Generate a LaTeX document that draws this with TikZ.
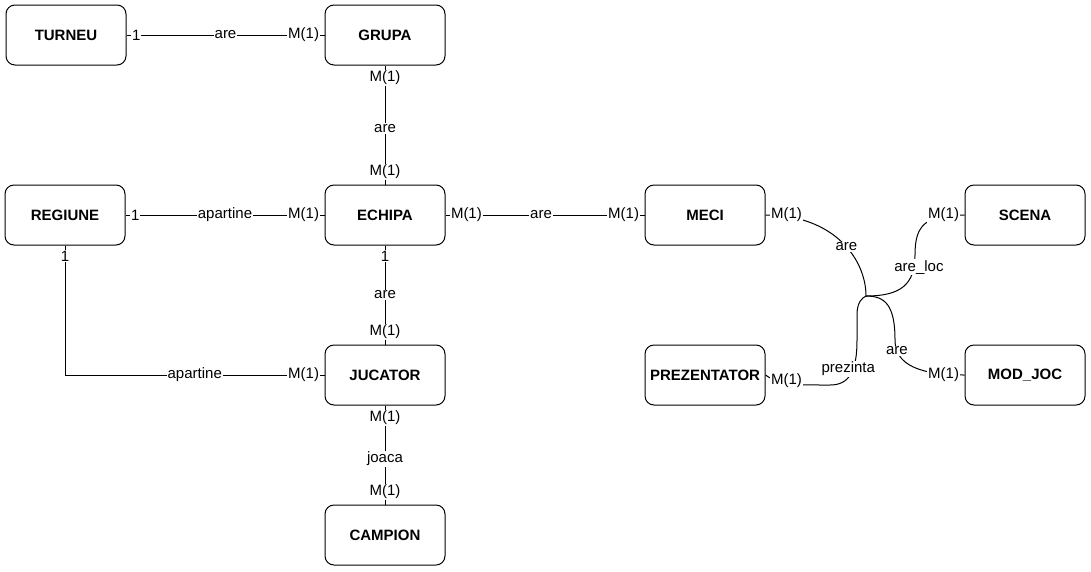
\documentclass[tikz,border=0pt]{standalone}
\usepackage{fontspec}
\setmainfont{Liberation Sans}
\usetikzlibrary{positioning}
\tikzstyle{entity} = [draw=black, line width=1pt, rounded corners=9pt,
minimum width=120pt, minimum height=60pt, text centered,
font=\fontsize{15}{18}\selectfont\bfseries]
\tikzstyle{rel} = [line width=1pt]
\tikzstyle{lbl} = [fill=white, inner sep=1pt, font=\fontsize{15}{18}\selectfont]

\begin{document}
\begin{tikzpicture}[x=1pt, y=-1pt]
            \useasboundingbox (0,0) rectangle (1091,571);
            % entities
            \node[entity] (turneu) at (66,35) {TURNEU};
            \node[entity] (grupa) at (385,35) {GRUPA};
            \node[entity] (regiune) at (65,215) {REGIUNE};
            \node[entity] (echipa) at (385,215) {ECHIPA};
            \node[entity] (meci) at (705,215) {MECI};
            \node[entity] (scena) at (1025,215) {SCENA};
            \node[entity] (jucator) at (385,375) {JUCATOR};
            \node[entity] (prezentator) at (705,375) {PREZENTATOR};
            \node[entity] (modjoc) at (1025,375) {MOD\_JOC};
            \node[entity] (campion) at (385,535) {CAMPION};
            \coordinate (hub) at (866,296);
            % straight relations
            \draw[rel] (turneu) -- (grupa)
            node[lbl, pos=0, anchor=west, xshift=4pt] {1}
            node[lbl, midway] {are}
            node[lbl, pos=1, anchor=east, xshift=-4pt] {M(1)};
            \draw[rel] (grupa) -- (echipa)
            node[lbl, pos=0, anchor=north, yshift=-4pt] {M(1)}
            node[lbl, pos=0.53] {are}
            node[lbl, pos=1, anchor=south, yshift=4pt] {M(1)};
            \draw[rel] (regiune) -- (echipa)
            node[lbl, pos=0, anchor=west, xshift=4pt] {1}
            node[lbl, midway] {apartine}
            node[lbl, pos=1, anchor=east, xshift=-4pt] {M(1)};
            \draw[rel] (echipa) -- (meci)
            node[lbl, pos=0, anchor=west, xshift=4pt] {M(1)}
            node[lbl, pos=0.48] {are}
            node[lbl, pos=1, anchor=east, xshift=-4pt] {M(1)};
            \draw[rel] (echipa) -- (jucator)
            node[lbl, pos=0, anchor=north, yshift=-4pt] {1}
            node[lbl, midway] {are}
            node[lbl, pos=1, anchor=south, yshift=4pt] {M(1)};
            \draw[rel] (regiune.south) |- (jucator.west)
            node[lbl, pos=0, anchor=north, yshift=-4pt] {1}
            node[lbl, pos=0.75] {apartine}
            node[lbl, pos=1, anchor=east, xshift=-4pt] {M(1)};
            \draw[rel] (jucator) -- (campion)
            node[lbl, pos=0, anchor=north, yshift=-4pt] {M(1)}
            node[lbl, pos=0.54] {joaca}
            node[lbl, pos=1, anchor=south, yshift=4pt] {M(1)};
            % curved relations to the hub
            \draw[rel] (meci.east) .. controls (835,215) and (866,260) .. (hub)
            node[lbl, pos=0, anchor=west, xshift=4pt] {M(1)}
            node[lbl, pos=0.55] {are};
            \draw[rel] (scena.west) .. controls (925,215) and (915,225) .. (915,255)
            node[lbl, pos=0, anchor=east, xshift=-4pt] {M(1)}
            .. controls (915,285) and (900,296) .. (hub)
            node[lbl, pos=0.15, xshift=5pt] {are\_loc};
            \draw[rel] (modjoc.west) .. controls (920,375) and (895,365) .. (895,340)
            node[lbl, pos=0, anchor=east, xshift=-4pt] {M(1)}
            node[lbl, pos=0.84] {are}
            .. controls (895,305) and (885,296) .. (hub);
            \draw[rel] (prezentator.east) .. controls (780,385) and (790,385) .. (830,385)
            node[lbl, pos=0, anchor=west, xshift=4pt, yshift=-6pt] {M(1)}
            .. controls (850,385) and (857,370) .. (857,340)
            node[lbl, pos=0.6, xshift=-5pt] {prezinta}
            -- (857,315) .. controls (857,302) and (862,298) .. (hub);
        \end{tikzpicture}
\end{document}
